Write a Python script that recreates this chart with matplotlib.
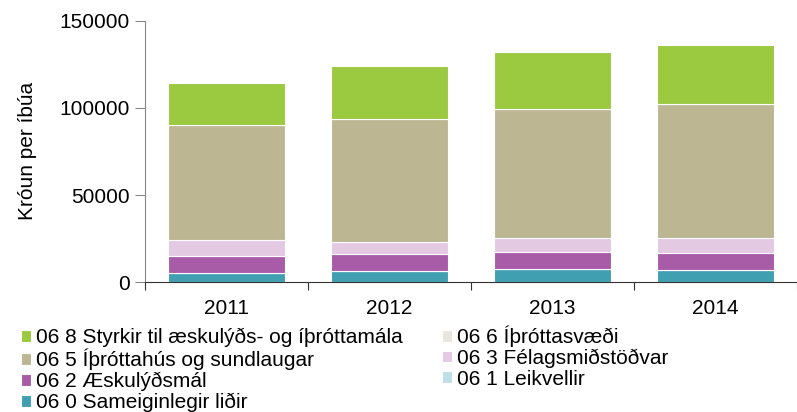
import numpy as np
import matplotlib.pyplot as plt

plt.rcParams['font.family'] = ['Liberation Sans', 'DejaVu Sans']

# Gögn (krónur per íbúa)
ar = ['2011', '2012', '2013', '2014']
sameiginlegir = [5500, 6300, 7800, 7200]       # 06 0
leikvellir = [0, 0, 0, 0]                      # 06 1
aeskulydsmal = [9700, 9700, 9700, 9400]        # 06 2
felagsmidstodvar = [8900, 6900, 8100, 9000]    # 06 3
ithrottahus = [66000, 70700, 73700, 76400]     # 06 5
ithrottasvaedi = [0, 0, 0, 0]                  # 06 6
styrkir = [24300, 30500, 32600, 34200]         # 06 8

# raðir neðan frá og upp
radir = [
    ('06 0 Sameiginlegir liðir', sameiginlegir, '#409FB0'),
    ('06 1 Leikvellir', leikvellir, '#BFDFE6'),
    ('06 2 Æskulýðsmál', aeskulydsmal, '#A85CA8'),
    ('06 3 Félagsmiðstöðvar', felagsmidstodvar, '#E4C9E3'),
    ('06 5 Íþróttahús og sundlaugar', ithrottahus, '#BCB693'),
    ('06 6 Íþróttasvæði', ithrottasvaedi, '#E8E6DC'),
    ('06 8 Styrkir til æskulýðs- og íþróttamála', styrkir, '#9BC940'),
]

fs = 15

fig = plt.figure(figsize=(7.97, 4.12), dpi=100)
ax = fig.add_axes([0.182, 0.315, 0.818, 0.635])

x = np.arange(len(ar))
botn = np.zeros(len(ar))
handles = {}
for nafn, gildi, litur in radir:
    b = ax.bar(x, gildi, 0.72, bottom=botn, color=litur, edgecolor='white',
               linewidth=0.8, label=nafn)
    handles[nafn] = b
    botn = botn + np.array(gildi)

ax.set_ylim(0, 150000)
ax.set_xlim(-0.5, 3.5)
ax.set_yticks([0, 50000, 100000, 150000])
ax.set_xticks(np.arange(-0.5, 4.0, 1.0))
ax.set_xticklabels([])
ax.set_xticks(x, minor=True)
ax.set_xticklabels(ar, minor=True)
ax.tick_params(axis='x', which='major', length=6, color='#333333')
ax.tick_params(axis='x', which='minor', length=0, pad=12, labelsize=fs)
ax.tick_params(axis='y', length=7, color='#888888', labelsize=fs, pad=4)
ax.spines['top'].set_visible(False)
ax.spines['right'].set_visible(False)
ax.spines['left'].set_color('#888888')
ax.spines['bottom'].set_color('#333333')
ax.set_ylabel('Króun per íbúa', fontsize=fs, labelpad=16)

# röð í skýringu (dálkar)
rod = ['06 8 Styrkir til æskulýðs- og íþróttamála',
       '06 5 Íþróttahús og sundlaugar',
       '06 2 Æskulýðsmál',
       '06 0 Sameiginlegir liðir',
       '06 6 Íþróttasvæði',
       '06 3 Félagsmiðstöðvar',
       '06 1 Leikvellir']
fig.legend([handles[n] for n in rod], rod, loc='upper left',
           bbox_to_anchor=(0.026, 0.21), ncol=2, frameon=False,
           fontsize=fs, handlelength=0.5, handleheight=0.5,
           handletextpad=0.25, labelspacing=0.08, columnspacing=1.85,
           borderpad=0, borderaxespad=0)

fig.savefig('out.png', dpi=100)
